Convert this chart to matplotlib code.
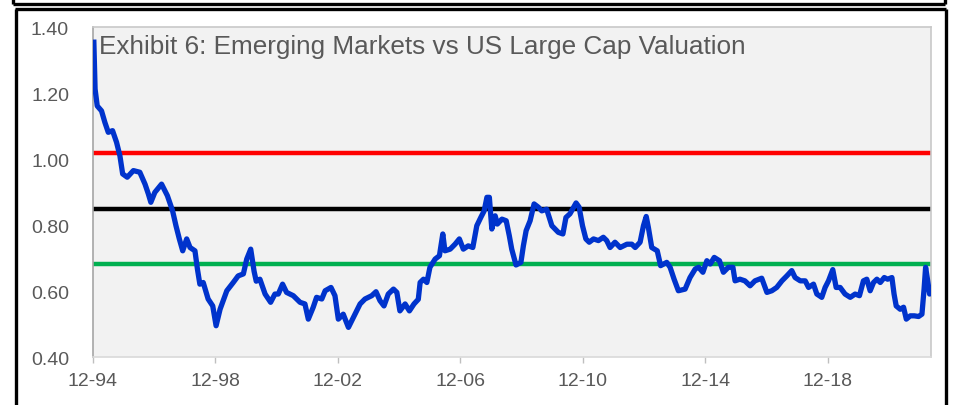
import matplotlib
matplotlib.use("Agg")
import matplotlib.pyplot as plt
from matplotlib.lines import Line2D

# ---------------- Data ---------------- #
# years since Dec-1994
years = [
    0.04, 0.08, 0.15, 0.29, 0.40, 0.51, 0.65, 0.78, 0.89, 0.98,
    1.13, 1.33, 1.54, 1.71, 1.82, 1.90, 2.03, 2.25, 2.44, 2.61,
    2.72, 2.83, 2.94, 3.07, 3.18, 3.34, 3.42, 3.50, 3.61, 3.77,
    3.92, 4.03, 4.16, 4.38, 4.59, 4.75, 4.92, 5.03, 5.16, 5.27,
    5.34, 5.46, 5.63, 5.81, 5.95, 6.06, 6.20, 6.33, 6.55, 6.77,
    6.93, 7.04, 7.20, 7.31, 7.48, 7.59, 7.78, 7.91, 8.02, 8.18,
    8.35, 8.51, 8.73, 8.89, 9.11, 9.25, 9.38, 9.51, 9.65, 9.82,
    9.93, 10.03, 10.20, 10.34, 10.49, 10.63, 10.69, 10.80, 10.91, 11.01,
    11.18, 11.32, 11.43, 11.50, 11.67, 11.83, 11.97, 12.10, 12.26, 12.41,
    12.54, 12.67, 12.78, 12.87, 12.95, 13.03, 13.14, 13.21, 13.36, 13.50,
    13.60, 13.68, 13.82, 13.98, 14.06, 14.15, 14.28, 14.41, 14.55, 14.66,
    14.82, 14.99, 15.20, 15.35, 15.45, 15.58, 15.78, 15.88, 15.99, 16.10,
    16.21, 16.35, 16.51, 16.67, 16.78, 16.89, 17.05, 17.22, 17.44, 17.60,
    17.71, 17.87, 17.98, 18.07, 18.14, 18.25, 18.43, 18.54, 18.74, 18.85,
    18.98, 19.12, 19.34, 19.50, 19.67, 19.78, 19.92, 20.05, 20.16, 20.29,
    20.46, 20.59, 20.75, 20.90, 20.97, 21.13, 21.29, 21.46, 21.62, 21.84,
    22.01, 22.17, 22.33, 22.50, 22.66, 22.82, 22.93, 23.10, 23.26, 23.37,
    23.53, 23.64, 23.80, 23.91, 24.02, 24.16, 24.27, 24.40, 24.56, 24.73,
    24.89, 25.03, 25.16, 25.27, 25.38, 25.49, 25.60, 25.71, 25.84, 25.95,
    26.09, 26.16, 26.23, 26.36, 26.47, 26.56, 26.69, 26.82, 26.96, 27.07,
    27.14, 27.19, 27.25, 27.32, 27.36,
]
ratio = [
    1.354, 1.212, 1.161, 1.146, 1.111, 1.081, 1.086, 1.051, 1.010, 0.955,
    0.945, 0.965, 0.960, 0.924, 0.894, 0.869, 0.899, 0.924, 0.889, 0.843,
    0.798, 0.758, 0.722, 0.758, 0.732, 0.722, 0.667, 0.621, 0.626, 0.576,
    0.555, 0.495, 0.545, 0.601, 0.626, 0.646, 0.652, 0.697, 0.727, 0.660,
    0.630, 0.636, 0.591, 0.566, 0.591, 0.591, 0.621, 0.596, 0.586, 0.566,
    0.561, 0.515, 0.551, 0.581, 0.576, 0.601, 0.611, 0.586, 0.515, 0.530,
    0.490, 0.520, 0.561, 0.576, 0.586, 0.598, 0.571, 0.555, 0.591, 0.606,
    0.596, 0.540, 0.561, 0.540, 0.561, 0.575, 0.626, 0.636, 0.626, 0.672,
    0.697, 0.707, 0.773, 0.722, 0.727, 0.742, 0.758, 0.727, 0.737, 0.732,
    0.798, 0.823, 0.843, 0.884, 0.884, 0.788, 0.828, 0.803, 0.818, 0.813,
    0.768, 0.727, 0.679, 0.687, 0.737, 0.783, 0.813, 0.864, 0.854, 0.843,
    0.848, 0.798, 0.778, 0.773, 0.823, 0.834, 0.867, 0.854, 0.798, 0.758,
    0.748, 0.758, 0.753, 0.763, 0.753, 0.732, 0.748, 0.732, 0.742, 0.742,
    0.732, 0.748, 0.798, 0.826, 0.793, 0.732, 0.722, 0.677, 0.687, 0.672,
    0.636, 0.601, 0.606, 0.641, 0.667, 0.672, 0.657, 0.692, 0.682, 0.702,
    0.692, 0.657, 0.672, 0.672, 0.631, 0.636, 0.631, 0.616, 0.631, 0.639,
    0.596, 0.601, 0.611, 0.631, 0.646, 0.662, 0.641, 0.631, 0.631, 0.611,
    0.621, 0.591, 0.581, 0.611, 0.631, 0.665, 0.611, 0.611, 0.591, 0.581,
    0.591, 0.586, 0.631, 0.636, 0.601, 0.626, 0.636, 0.626, 0.641, 0.636,
    0.641, 0.591, 0.555, 0.545, 0.551, 0.515, 0.525, 0.525, 0.523, 0.530,
    0.606, 0.672, 0.636, 0.591, 0.606,
]

AVG = 0.85
PLUS_1SD = 1.017
MINUS_1SD = 0.683

tick_years = [0, 4, 8, 12, 16, 20, 24]
tick_labels = ["12-94", "12-98", "12-02", "12-06", "12-10", "12-14", "12-18"]
y_ticks = [0.40, 0.60, 0.80, 1.00, 1.20, 1.40]

# ---------------- Plot ---------------- #
plt.rcParams["font.family"] = ["Liberation Sans", "DejaVu Sans"]
fig = plt.figure(figsize=(9.55, 4.06), dpi=100)
ax = fig.add_axes([0.097, 0.118, 0.878, 0.813])
ax.set_facecolor("#F2F2F2")

ax.axhline(PLUS_1SD, color="#FF0000", lw=3.2, zorder=2)
ax.axhline(AVG, color="black", lw=3.2, zorder=2)
ax.axhline(MINUS_1SD, color="#00B050", lw=3.2, zorder=2)
ax.plot(years, ratio, color="#0033CC", lw=3.8, solid_joinstyle="round", zorder=3)

ax.set_xlim(0, 27.37)
ax.set_ylim(0.40, 1.40)
ax.set_xticks(tick_years)
ax.set_xticklabels(tick_labels)
ax.set_yticks(y_ticks)
ax.set_yticklabels([f"{v:.2f}" for v in y_ticks])
ax.tick_params(axis="x", colors="#BFBFBF", length=4, width=1, pad=7,
               labelcolor="#595959", labelsize=14)
ax.tick_params(axis="y", length=0, pad=17, labelcolor="#595959", labelsize=14)

for side in ["top", "right"]:
    ax.spines[side].set_color("#C8C8C8")
ax.spines["left"].set_color("#A6A6A6")
ax.spines["bottom"].set_color("#D9D9D9")
for sp in ax.spines.values():
    sp.set_linewidth(1.2)

ax.text(0.0075, 0.942, "Exhibit 6: Emerging Markets vs US Large Cap Valuation",
        transform=ax.transAxes, ha="left", va="center", fontsize=18.8,
        color="#595959", zorder=4)

# black frames around the exhibit
W, H = 955.0, 406.0
def fx(x):
    return x / W
def fy(y):
    return 1 - y / H
frame = dict(color="black", lw=2.4, solid_capstyle="butt")
fig.add_artist(Line2D([fx(13), fx(945)], [fy(5), fy(5)], **frame))
fig.add_artist(Line2D([fx(13), fx(13)], [fy(0), fy(5)], **frame))
fig.add_artist(Line2D([fx(945), fx(945)], [fy(0), fy(5)], **frame))
fig.add_artist(Line2D([fx(15), fx(946)], [fy(10), fy(10)], **frame))
fig.add_artist(Line2D([fx(15.5), fx(15.5)], [fy(10), fy(406)], **frame))
fig.add_artist(Line2D([fx(945.5), fx(945.5)], [fy(10), fy(406)], **frame))

fig.savefig("out.png", dpi=100)
